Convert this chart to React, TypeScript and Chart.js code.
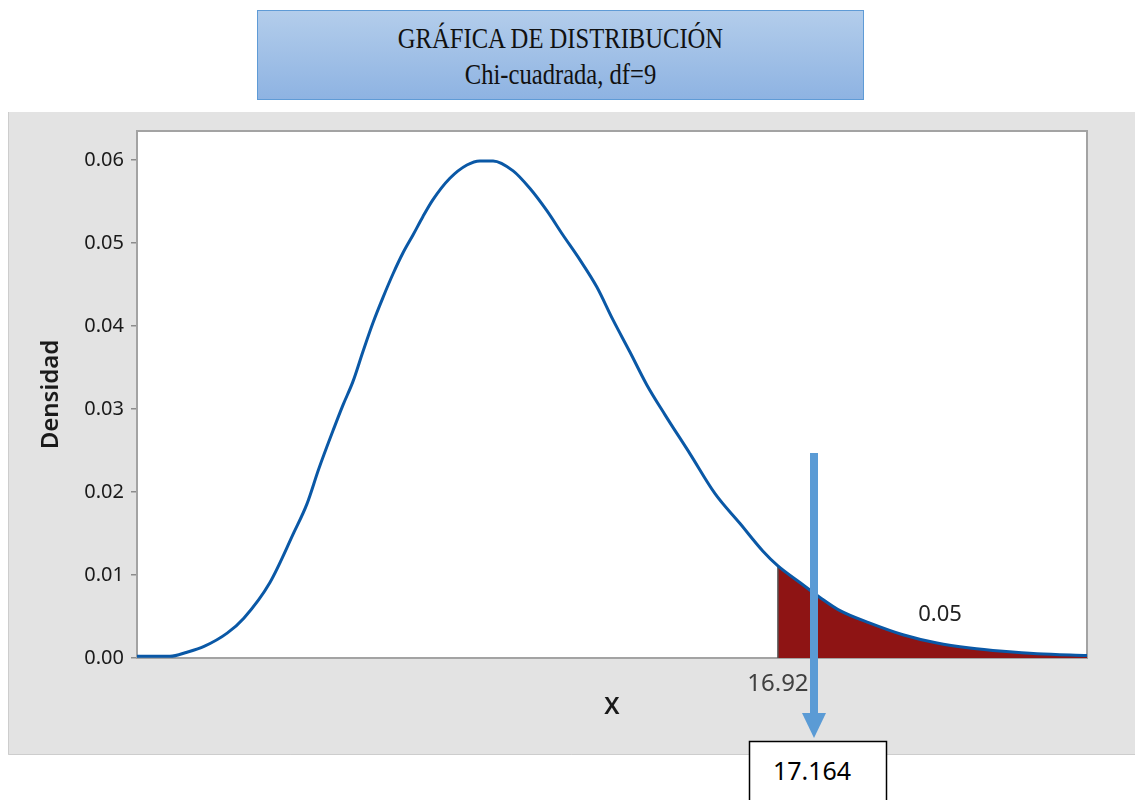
import React, { useEffect, useRef } from "react";
import { Chart, registerables } from "chart.js";

Chart.register(...registerables);

// ---- data ----
const CRIT = 16.92;
const X_MIN = 0;
const X_MAX = 25.08;
const TAIL_AREA_LABEL = "0.05";
const TAIL_LABEL_X = 21.2;
const TAIL_LABEL_Y = 0.0052;
const ARROW_VALUE = "17.164";

const xValues = [
  0, 0.87, 1.32, 1.77, 2.38, 2.82, 3.51, 4.14, 4.49, 4.8,
  5.2, 5.44, 5.7, 5.97, 6.23, 6.49, 6.76, 7.02, 7.29, 7.55,
  7.81, 8.26, 8.71, 9.05, 9.4, 9.93, 10.37, 10.82, 11.24, 11.69,
  12.14, 12.56, 13.01, 13.46, 13.94, 14.6, 15.26, 15.92, 16.52, 16.92,
  17.5, 18.03, 18.56, 19.35, 20.22, 21.12, 21.99, 22.86, 23.76, 25.08,
];
const density = [
  0.0002, 0.0002, 0.0007, 0.0014, 0.003, 0.0048, 0.0091, 0.0151, 0.0186, 0.0228,
  0.0277, 0.0305, 0.0333, 0.037, 0.0404, 0.0434, 0.0463, 0.0488, 0.051, 0.0532,
  0.0552, 0.0578, 0.0594, 0.0599, 0.0599, 0.0587, 0.0566, 0.0539, 0.051, 0.048,
  0.0447, 0.0408, 0.0369, 0.0329, 0.0293, 0.0246, 0.0198, 0.0162, 0.0129, 0.0111,
  0.0091, 0.0073, 0.0057, 0.0042, 0.0028, 0.0018, 0.0012, 0.0008, 0.0005, 0.0003,
];
const yTicks = [0, 0.01, 0.02, 0.03, 0.04, 0.05, 0.06];
const Y_MAX = 0.0635;

const TITLE_1 = "GRÁFICA DE DISTRIBUCIÓN";
const TITLE_2 = "Chi-cuadrada, df=9";

const FONT = "'Noto Sans', 'Open Sans', sans-serif";

export default function App() {
  const ref = useRef<HTMLCanvasElement | null>(null);

  useEffect(() => {
    if (!ref.current) return;
    const curve = xValues.map((x, i) => ({ x, y: density[i] }));
    const tail = curve.filter((p) => p.x >= CRIT);
    const critY = tail.length ? tail[0].y : 0;

    const bgPlugin = {
      id: "bg",
      beforeDraw(chart: any) {
        const { ctx, chartArea, width, height } = chart;
        ctx.save();
        ctx.fillStyle = "#e3e3e3";
        ctx.fillRect(0, 0, width, height);
        ctx.strokeStyle = "#cdcdcd";
        ctx.lineWidth = 1;
        ctx.beginPath();
        ctx.moveTo(0.5, 0);
        ctx.lineTo(0.5, height - 0.5);
        ctx.lineTo(width, height - 0.5);
        ctx.stroke();
        ctx.fillStyle = "#ffffff";
        ctx.fillRect(chartArea.left, chartArea.top, chartArea.right - chartArea.left, chartArea.bottom - chartArea.top);
        ctx.restore();
      },
      beforeDatasetsDraw(chart: any) {
        const { ctx, chartArea } = chart;
        ctx.save();
        ctx.strokeStyle = "#a3a3a3";
        ctx.lineWidth = 2;
        ctx.strokeRect(chartArea.left, chartArea.top, chartArea.right - chartArea.left, chartArea.bottom - chartArea.top);
        ctx.restore();
      },
      afterDatasetsDraw(chart: any) {
        const { ctx, scales } = chart;
        ctx.save();
        ctx.font = `22px ${FONT}`;
        ctx.fillStyle = "#222";
        ctx.textAlign = "center";
        ctx.textBaseline = "middle";
        ctx.fillText(TAIL_AREA_LABEL, scales.x.getPixelForValue(TAIL_LABEL_X), scales.y.getPixelForValue(TAIL_LABEL_Y));
        ctx.restore();
      },
    };

    const chart = new Chart(ref.current, {
      type: "line",
      data: {
        datasets: [
          {
            data: curve,
            borderColor: "#0a58a6",
            borderWidth: 3,
            pointRadius: 0,
            fill: false,
            cubicInterpolationMode: "monotone",
            order: 0,
          },
          {
            data: [
              { x: CRIT, y: 0 },
              { x: CRIT, y: critY },
            ],
            borderColor: "#555555",
            borderWidth: 1.5,
            pointRadius: 0,
            fill: false,
            order: 1,
          },
          {
            data: tail,
            borderWidth: 0,
            borderColor: "rgba(0,0,0,0)",
            backgroundColor: "#8e1414",
            pointRadius: 0,
            fill: "origin",
            cubicInterpolationMode: "monotone",
            order: 2,
          },
        ],
      },
      options: {
        responsive: false,
        animation: false,
        devicePixelRatio: 1,
        layout: { padding: { left: 0, top: 16, right: 48, bottom: 0 } },
        plugins: { legend: { display: false }, tooltip: { enabled: false } },
        scales: {
          x: {
            type: "linear",
            min: X_MIN,
            max: X_MAX,
            grid: { display: false, drawTicks: false },
            border: { display: false },
            afterBuildTicks(scale: any) {
              scale.ticks = [{ value: CRIT }];
            },
            afterFit(scale: any) {
              scale.height = 97;
            },
            ticks: {
              autoSkip: false,
              maxRotation: 0,
              padding: 12,
              color: "#404040",
              font: { family: FONT, size: 24 },
              callback: (v: any) => Number(v).toFixed(2),
            },
            title: {
              display: true,
              text: "X",
              color: "#1a1a1a",
              font: { family: FONT, size: 24, weight: "600" },
              padding: { top: 0, bottom: 33 },
            },
          },
          y: {
            type: "linear",
            min: 0,
            max: Y_MAX,
            grid: { display: true, drawOnChartArea: false, drawTicks: true, tickLength: 6, color: "#8c8c8c", lineWidth: 1.5 },
            border: { display: false },
            afterBuildTicks(scale: any) {
              scale.ticks = yTicks.map((v) => ({ value: v }));
            },
            afterFit(scale: any) {
              scale.width = 129;
            },
            ticks: {
              padding: 7,
              color: "#1a1a1a",
              font: { family: FONT, size: 20 },
              callback: (v: any) => Number(v).toFixed(2),
            },
            title: {
              display: true,
              text: "Densidad",
              color: "#1a1a1a",
              font: { family: FONT, size: 24, weight: "600" },
              padding: { top: 29, bottom: 0 },
            },
          },
        },
      },
      plugins: [bgPlugin],
    } as any);
    return () => chart.destroy();
  }, []);

  return (
    <div style={{ position: "absolute", left: 0, top: 0, width: 1135, height: 800, overflow: "hidden", background: "#fff" }}>
      <div
        style={{
          position: "absolute",
          left: 257,
          top: 10,
          width: 605,
          height: 88,
          background: "linear-gradient(#b3cdeb, #8eb3e2)",
          border: "1px solid #5f9bd6",
          fontFamily: "'Liberation Serif', 'Times New Roman', serif",
          color: "#111",
          textAlign: "center",
        }}
      >
        <div style={{ position: "absolute", left: 0, right: 0, top: 10, fontSize: 30, lineHeight: "34px", transform: "scaleX(0.82)", whiteSpace: "nowrap" }}>{TITLE_1}</div>
        <div style={{ position: "absolute", left: 0, right: 0, top: 46, fontSize: 30, lineHeight: "34px", transform: "scaleX(0.82)", whiteSpace: "nowrap" }}>{TITLE_2}</div>
      </div>
      <div style={{ position: "absolute", left: 8, top: 112, width: 1127, height: 643 }}>
        <canvas ref={ref} width={1127} height={643} style={{ display: "block" }} />
      </div>
      <svg style={{ position: "absolute", left: 0, top: 0 }} width={1135} height={800}>
        <rect x={810} y={453} width={8} height={262} fill="#5b9bd5" />
        <polygon points="802,713 826,713 814,738" fill="#5b9bd5" />
        <rect x={749.5} y={741.5} width={137} height={70} fill="#ffffff" stroke="#000" strokeWidth={1.5} />
        <text x={812} y={773} textAnchor="middle" dominantBaseline="middle" fontFamily={FONT} fontSize={25} fill="#000">
          {ARROW_VALUE}
        </text>
      </svg>
    </div>
  );
}
